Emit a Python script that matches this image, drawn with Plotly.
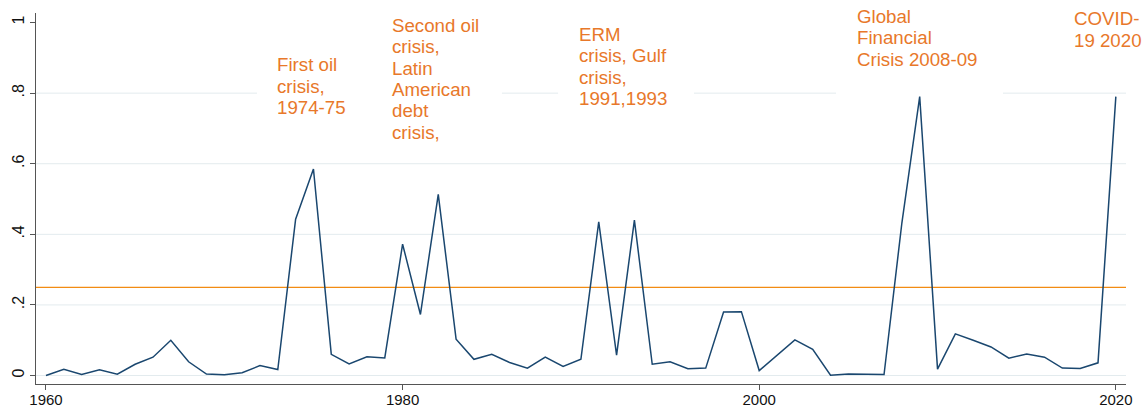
import plotly.graph_objects as go

years = list(range(1960, 2021))
share = [
    0.000, 0.018, 0.003, 0.016, 0.004, 0.032, 0.052, 0.100, 0.039, 0.004,  # 1960s
    0.002, 0.008, 0.028, 0.017, 0.443, 0.585, 0.060, 0.033, 0.053, 0.050,  # 1970s
    0.372, 0.173, 0.513, 0.103, 0.046, 0.060, 0.037, 0.021, 0.052, 0.026,  # 1980s
    0.046, 0.435, 0.058, 0.440, 0.032, 0.039, 0.019, 0.021, 0.180, 0.181,  # 1990s
    0.014, 0.058, 0.101, 0.074, 0.001, 0.004, 0.003, 0.003, 0.432, 0.790,  # 2000s
    0.018, 0.118, 0.100, 0.081, 0.049, 0.061, 0.052, 0.021, 0.020, 0.036,  # 2010s
    0.790,                                                                 # 2020
]
threshold = 0.25

y_tickvals = [0, 0.2, 0.4, 0.6, 0.8, 1]
y_ticktext = ["0", ".2", ".4", ".6", ".8", "1"]
x_tickvals = [1960, 1980, 2000, 2020]
x_ticktext = ["1960", "1980", "2000", "2020"]

crisis_labels = [
    ["First oil", "crisis,", "1974-75"],
    ["Second oil", "crisis,", "Latin", "American", "debt", "crisis,"],
    ["ERM", "crisis, Gulf", "crisis,", "1991,1993"],
    ["Global", "Financial", "Crisis 2008-09"],
    ["COVID-", "19 2020"],
]
# placement (left edge in years, first-line centre in y units)
label_x = [1972.96, 1979.40, 1989.90, 2005.49, 2017.65]
label_y = [0.881, 0.993, 0.967, 1.018, 1.011]
line_step = 0.0609
# label background boxes hiding the gridline (x extent in years)
box_x = [(1971.83, 1985.57), (1988.72, 1996.34), (2004.31, 2013.67)]

NAVY = "#1a476f"
ORANGE_LINE = "#f28c13"
ORANGE_TXT = "#e8782a"
GRID = "#e3ebee"
FONT = "Arial, Liberation Sans, sans-serif"

fig = go.Figure()
fig.add_trace(go.Scatter(
    x=years, y=share, mode="lines",
    line=dict(color=NAVY, width=1.5),
    hoverinfo="x+y", showlegend=False,
))

shapes = []
for v in y_tickvals[:-1]:
    shapes.append(dict(type="line", xref="paper", yref="y", x0=0, x1=1, y0=v, y1=v,
                       line=dict(color=GRID, width=1), layer="below"))
for x0, x1 in box_x:
    shapes.append(dict(type="rect", xref="x", yref="y", x0=x0, x1=x1, y0=0.77, y1=0.83,
                       fillcolor="white", line=dict(width=0), layer="below"))
shapes.append(dict(type="line", xref="paper", yref="y", x0=0, x1=1,
                   y0=threshold, y1=threshold,
                   line=dict(color=ORANGE_LINE, width=1.3), layer="below"))

annotations = []
for lines, lx, ly in zip(crisis_labels, label_x, label_y):
    for i, t in enumerate(lines):
        annotations.append(dict(
            x=lx, y=ly - i * line_step, xref="x", yref="y", text=t,
            showarrow=False, xanchor="left", yanchor="middle",
            font=dict(family=FONT, size=18.7, color=ORANGE_TXT),
            borderpad=0, borderwidth=0,
        ))

fig.update_layout(
    width=1145, height=410,
    margin=dict(l=36, r=19, t=13, b=26, autoexpand=False),
    paper_bgcolor="white", plot_bgcolor="white",
    font=dict(family=FONT, color="#111111"),
    shapes=shapes, annotations=annotations,
    showlegend=False,
)
fig.update_xaxes(
    range=[1959.44, 2020.57], tickvals=x_tickvals, ticktext=x_ticktext,
    showgrid=False, zeroline=False, showline=True, linecolor="#555555", linewidth=1.2,
    ticks="outside", ticklen=5, tickcolor="#555555", tickfont=dict(size=15),
    ticklabelstandoff=-3, automargin=False,
)
fig.update_yaxes(
    range=[-0.024, 1.027], tickvals=y_tickvals, ticktext=y_ticktext,
    showgrid=False, zeroline=False, showline=True, linecolor="#555555", linewidth=1.2,
    ticks="outside", ticklen=5, tickcolor="#555555", tickfont=dict(size=16),
    tickangle=-90, automargin=False,
)

fig.write_html("out.html", config={"displayModeBar": False},
               post_script="document.body.style.margin='0';")
